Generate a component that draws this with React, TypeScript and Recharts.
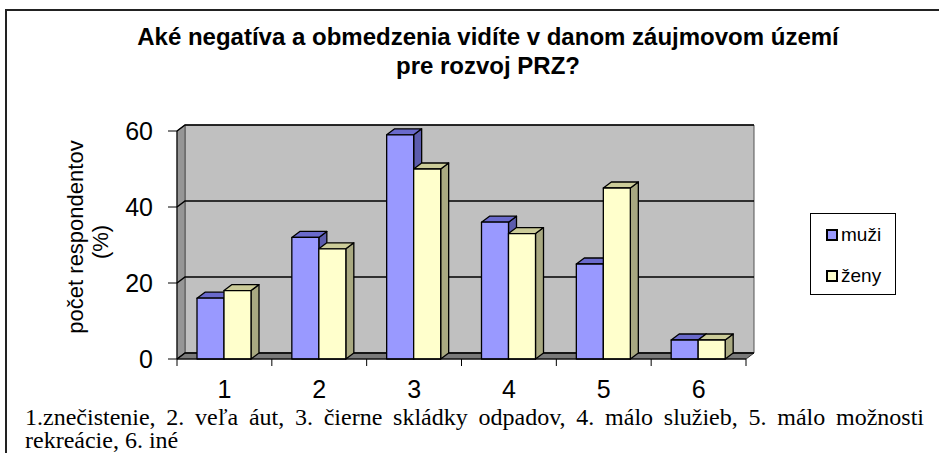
import React from "react";
import {
  Bar,
  BarChart,
  CartesianGrid,
  Legend,
  ReferenceArea,
  XAxis,
  YAxis,
} from "recharts";

const categories = ["1", "2", "3", "4", "5", "6"];
const muzi = [16, 32, 59, 36, 25, 5];
const zeny = [18, 29, 50, 33, 45, 5];
const yTicks = [0, 20, 40, 60];

const data = categories.map((cat, i) => ({ cat, muzi: muzi[i], zeny: zeny[i] }));

const W = 939;
const H = 453;
const MARGIN = { top: 131, right: 193, left: 117, bottom: 54 };
const Y_AXIS_W = 60;
const X_AXIS_H = 40;
const PLOT_W = W - MARGIN.left - Y_AXIS_W - MARGIN.right;
const BAND = PLOT_W / categories.length;

// 3D depth offset
const DX = 8;
const DY = -6;

const FONT = "'Liberation Sans', Arial, sans-serif";

const makeBar3D = (front: string, top: string, side: string) => (props: any) => {
  const { x, y, width: w, height: h } = props;
  if (!w || h == null) return null;
  return (
    <g stroke="#000" strokeWidth={1.3} strokeLinejoin="round">
      <polygon
        points={`${x + w},${y} ${x + w + DX},${y + DY} ${x + w + DX},${y + h + DY} ${x + w},${y + h}`}
        fill={side}
      />
      <polygon
        points={`${x},${y} ${x + DX},${y + DY} ${x + w + DX},${y + DY} ${x + w},${y}`}
        fill={top}
      />
      <rect x={x} y={y} width={w} height={h} fill={front} />
    </g>
  );
};

const Walls = (props: any) => {
  const { x, y, width: w, height: h } = props;
  return (
    <g strokeLinejoin="round">
      <rect x={x + DX} y={y + DY} width={w} height={h} fill="#c0c0c0" stroke="#555" strokeWidth={1} />
      <polygon
        points={`${x},${y} ${x + DX},${y + DY} ${x + DX},${y + h + DY} ${x},${y + h}`}
        fill="#969696"
        stroke="#555"
        strokeWidth={1}
      />
      <polygon
        points={`${x},${y + h} ${x + DX},${y + h + DY} ${x + w + DX},${y + h + DY} ${x + w},${y + h}`}
        fill="#7a7a7a"
        stroke="#333"
        strokeWidth={1}
      />
    </g>
  );
};

const gridLine = (p: any) => {
  const { x1, y1, x2, y2 } = p;
  return (
    <path
      key={p.key ?? `g-${y1}`}
      d={`M${x1},${y1} L${x1 + DX},${y1 + DY} L${x2 + DX},${y2 + DY}`}
      stroke="#000"
      strokeWidth={1.5}
      fill="none"
    />
  );
};

const XTick = (props: any) => {
  const { x, y, payload, index } = props;
  const axisY = y - 7;
  return (
    <g>
      <line x1={x - BAND / 2} y1={axisY} x2={x - BAND / 2} y2={axisY + 7} stroke="#000" />
      {index === categories.length - 1 && (
        <line x1={x + BAND / 2} y1={axisY} x2={x + BAND / 2} y2={axisY + 7} stroke="#000" />
      )}
      <text x={x} y={axisY + 39} textAnchor="middle" fontSize={25} fontFamily={FONT} fill="#000">
        {payload.value}
      </text>
    </g>
  );
};

const renderLegend = (props: any) => {
  const { payload } = props;
  return (
    <div
      style={{
        width: 86,
        height: 82,
        boxSizing: "border-box",
        border: "1px solid #000",
        background: "#fff",
        paddingTop: 9,
        paddingLeft: 15,
        fontFamily: FONT,
        fontSize: 19,
      }}
    >
      {(payload || []).map((entry: any, i: number) => (
        <div
          key={`leg-${i}`}
          style={{ display: "flex", alignItems: "center", height: 24, marginBottom: i === 0 ? 17 : 0 }}
        >
          <span
            style={{
              display: "inline-block",
              width: 8,
              height: 8,
              border: "2px solid #000",
              background: entry.color,
              marginRight: 3,
            }}
          />
          <span>{entry.value}</span>
        </div>
      ))}
    </div>
  );
};

export default function App() {
  return (
    <div
      style={{
        position: "absolute",
        left: 0,
        top: 0,
        width: W,
        height: H,
        overflow: "hidden",
        background: "#fff",
      }}
    >
      <div
        style={{
          position: "absolute",
          left: 5,
          top: 9,
          width: W,
          height: H,
          borderTop: "2px solid #222",
          borderLeft: "2px solid #222",
        }}
      />
      <BarChart
        width={W}
        height={H}
        data={data}
        margin={MARGIN}
        barSize={27}
        barGap={0}
        style={{ position: "absolute", left: 0, top: 0 }}
      >
        <text x={488} y={45} textAnchor="middle" fontFamily={FONT} fontWeight="bold" fontSize={24} fill="#000">
          Aké negatíva a obmedzenia vidíte v danom záujmovom území
        </text>
        <text x={488} y={74} textAnchor="middle" fontFamily={FONT} fontWeight="bold" fontSize={24} fill="#000">
          pre rozvoj PRZ?
        </text>
        <text transform="translate(83,237) rotate(-90)" textAnchor="middle" fontFamily={FONT} fontSize={22} fill="#000">
          počet respondentov
        </text>
        <text transform="translate(108,242) rotate(-90)" textAnchor="middle" fontFamily={FONT} fontSize={22} fill="#000">
          (%)
        </text>
        <ReferenceArea y1={0} y2={60} shape={Walls} ifOverflow="visible" zIndex={-200} />
        <CartesianGrid vertical={false} horizontal={gridLine} />
        <XAxis
          dataKey="cat"
          height={X_AXIS_H}
          tickLine={false}
          tickSize={7}
          tickMargin={0}
          axisLine={{ stroke: "#000" }}
          tick={XTick}
          interval={0}
        />
        <YAxis
          width={Y_AXIS_W}
          domain={[0, 60]}
          ticks={yTicks}
          tickSize={9}
          tickMargin={15}
          axisLine={{ stroke: "#000" }}
          tickLine={{ stroke: "#000" }}
          tick={{ fontSize: 25, fontFamily: FONT, fill: "#000" }}
          interval={0}
        />
        <Bar dataKey="muzi" name="muži" fill="#9999ff" isAnimationActive={false} shape={makeBar3D("#9999ff", "#6a6acc", "#5c5cad")} />
        <Bar dataKey="zeny" name="ženy" fill="#ffffcc" isAnimationActive={false} shape={makeBar3D("#ffffcc", "#cccc99", "#a9a981")} />
        <Legend
          layout="vertical"
          verticalAlign="middle"
          align="center"
          content={renderLegend}
          wrapperStyle={{ position: "absolute", left: 810, top: 213, width: 86, height: 82 }}
        />
      </BarChart>
      <div
        style={{
          position: "absolute",
          left: 25,
          top: 406,
          width: 899,
          fontFamily: "'Liberation Serif', 'Times New Roman', serif",
          fontSize: 24,
          lineHeight: "23px",
          textAlign: "justify",
          color: "#000",
        }}
      >
        1.znečistenie, 2. veľa áut, 3. čierne skládky odpadov, 4. málo služieb, 5. málo možnosti rekreácie, 6. iné
      </div>
    </div>
  );
}
